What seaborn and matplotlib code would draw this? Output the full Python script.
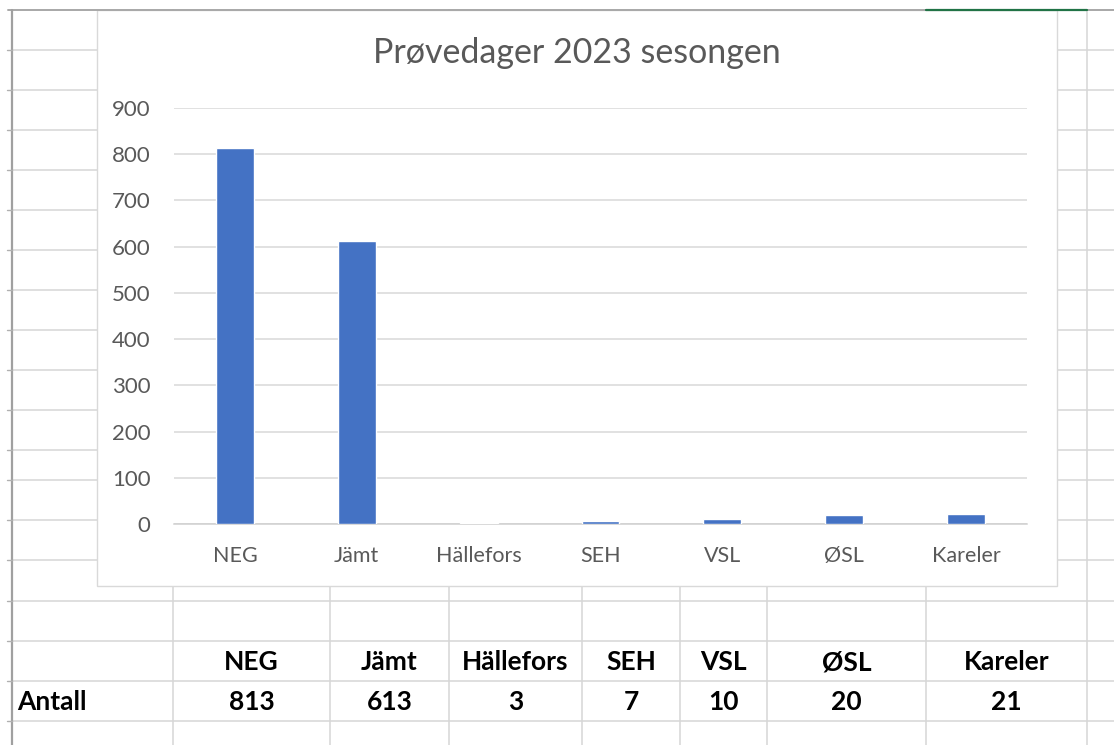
import matplotlib
matplotlib.use("Agg")
import matplotlib.pyplot as plt
import seaborn as sns
import pandas as pd
from matplotlib.lines import Line2D
from matplotlib.patches import Rectangle

# ---- data ----
categories = ["NEG", "Jämt", "Hällefors", "SEH", "VSL", "ØSL", "Kareler"]
values = [813, 613, 3, 7, 10, 20, 21]
title = "Prøvedager 2023 sesongen"
row_label = "Antall"
y_ticks = [0, 100, 200, 300, 400, 500, 600, 700, 800, 900]

# ---- layout (pixels) ----
W, H = 1114, 745
row_lines = [50, 90, 130, 170, 210, 250, 290, 330, 370, 410, 450, 480, 520, 560, 601, 641, 681, 721]
col_lines = [173, 330, 449, 582, 680, 767, 926, 1087]
chart_box = (97, 10, 1057, 586)
plot_box = (174, 108, 1027, 524)

sns.set_theme(style="white")
plt.rcParams["font.family"] = ["Lato", "DejaVu Sans"]

fig = plt.figure(figsize=(W / 100, H / 100), dpi=100)
fig.patch.set_facecolor("white")

bg = fig.add_axes([0, 0, 1, 1])
bg.set_xlim(0, W)
bg.set_ylim(H, 0)
bg.axis("off")

grid_c = "#d6d6d6"
for y in row_lines:
    bg.add_line(Line2D([13, W], [y, y], color=grid_c, lw=1.1, zorder=1))
for x in col_lines:
    bg.add_line(Line2D([x, x], [10, H], color=grid_c, lw=1.1, zorder=1))

# chart box
x0, y0, x1, y1 = chart_box
bg.add_patch(Rectangle((x0, y0), x1 - x0, y1 - y0, facecolor="white",
                       edgecolor="#d9d9d9", lw=1.0, zorder=4))

# sheet borders (on top)
bg.add_line(Line2D([8, W], [10, 10], color="#a8a8a8", lw=1.4, zorder=6))
bg.add_line(Line2D([926, 1087], [10, 10], color="#217346", lw=1.6, zorder=7))
bg.add_line(Line2D([12, 12], [10, H], color="#a0a0a0", lw=1.6, zorder=6))
for y in row_lines:
    bg.add_line(Line2D([7, 12], [y, y], color="#b0b0b0", lw=1.0, zorder=6))

# table texts
centers = [(col_lines[i] + col_lines[i + 1]) / 2 for i in range(len(col_lines) - 1)]
hdr_y = (row_lines[15] + row_lines[16]) / 2 + 1
val_y = (row_lines[16] + row_lines[17]) / 2 + 1
tfs = 19
for cx, cat, v in zip(centers, categories, values):
    bg.text(cx, hdr_y, cat, ha="center", va="center", fontsize=tfs,
            fontweight="bold", color="black", zorder=5)
    bg.text(cx, val_y, str(v), ha="center", va="center", fontsize=tfs,
            fontweight="bold", color="black", zorder=5)
bg.text(17, val_y, row_label, ha="left", va="center", fontsize=tfs,
        fontweight="bold", color="black", zorder=5)

# title
bg.text((x0 + x1) / 2, 53, title, ha="center", va="center", fontsize=24.5,
        color="#595959", zorder=5)

# plot axes
px0, py0, px1, py1 = plot_box
ax = fig.add_axes([px0 / W, (H - py1) / H, (px1 - px0) / W, (py1 - py0) / H])
ax.set_zorder(10)
ax.patch.set_alpha(0)
df = pd.DataFrame({"cat": categories, "val": values})
sns.barplot(data=df, x="cat", y="val", color="#4472C4", width=0.31,
            saturation=1, ax=ax, zorder=3)
ax.set_ylim(0, 900)
ax.set_yticks(y_ticks)
ax.set_xlim(-0.5, len(categories) - 0.5)
ax.set_xlabel("")
ax.set_ylabel("")
ax.yaxis.grid(True, color="#d9d9d9", lw=1.1)
ax.set_axisbelow(True)
for s in ["top", "right", "left"]:
    ax.spines[s].set_visible(False)
ax.spines["bottom"].set_color("#d0d0d0")
ax.spines["bottom"].set_linewidth(1.1)
ax.tick_params(axis="y", length=0, pad=17, labelsize=16, labelcolor="#595959")
ax.tick_params(axis="x", length=0, pad=16, labelsize=15.5, labelcolor="#595959")

fig.savefig("out.png", dpi=100, facecolor="white")
